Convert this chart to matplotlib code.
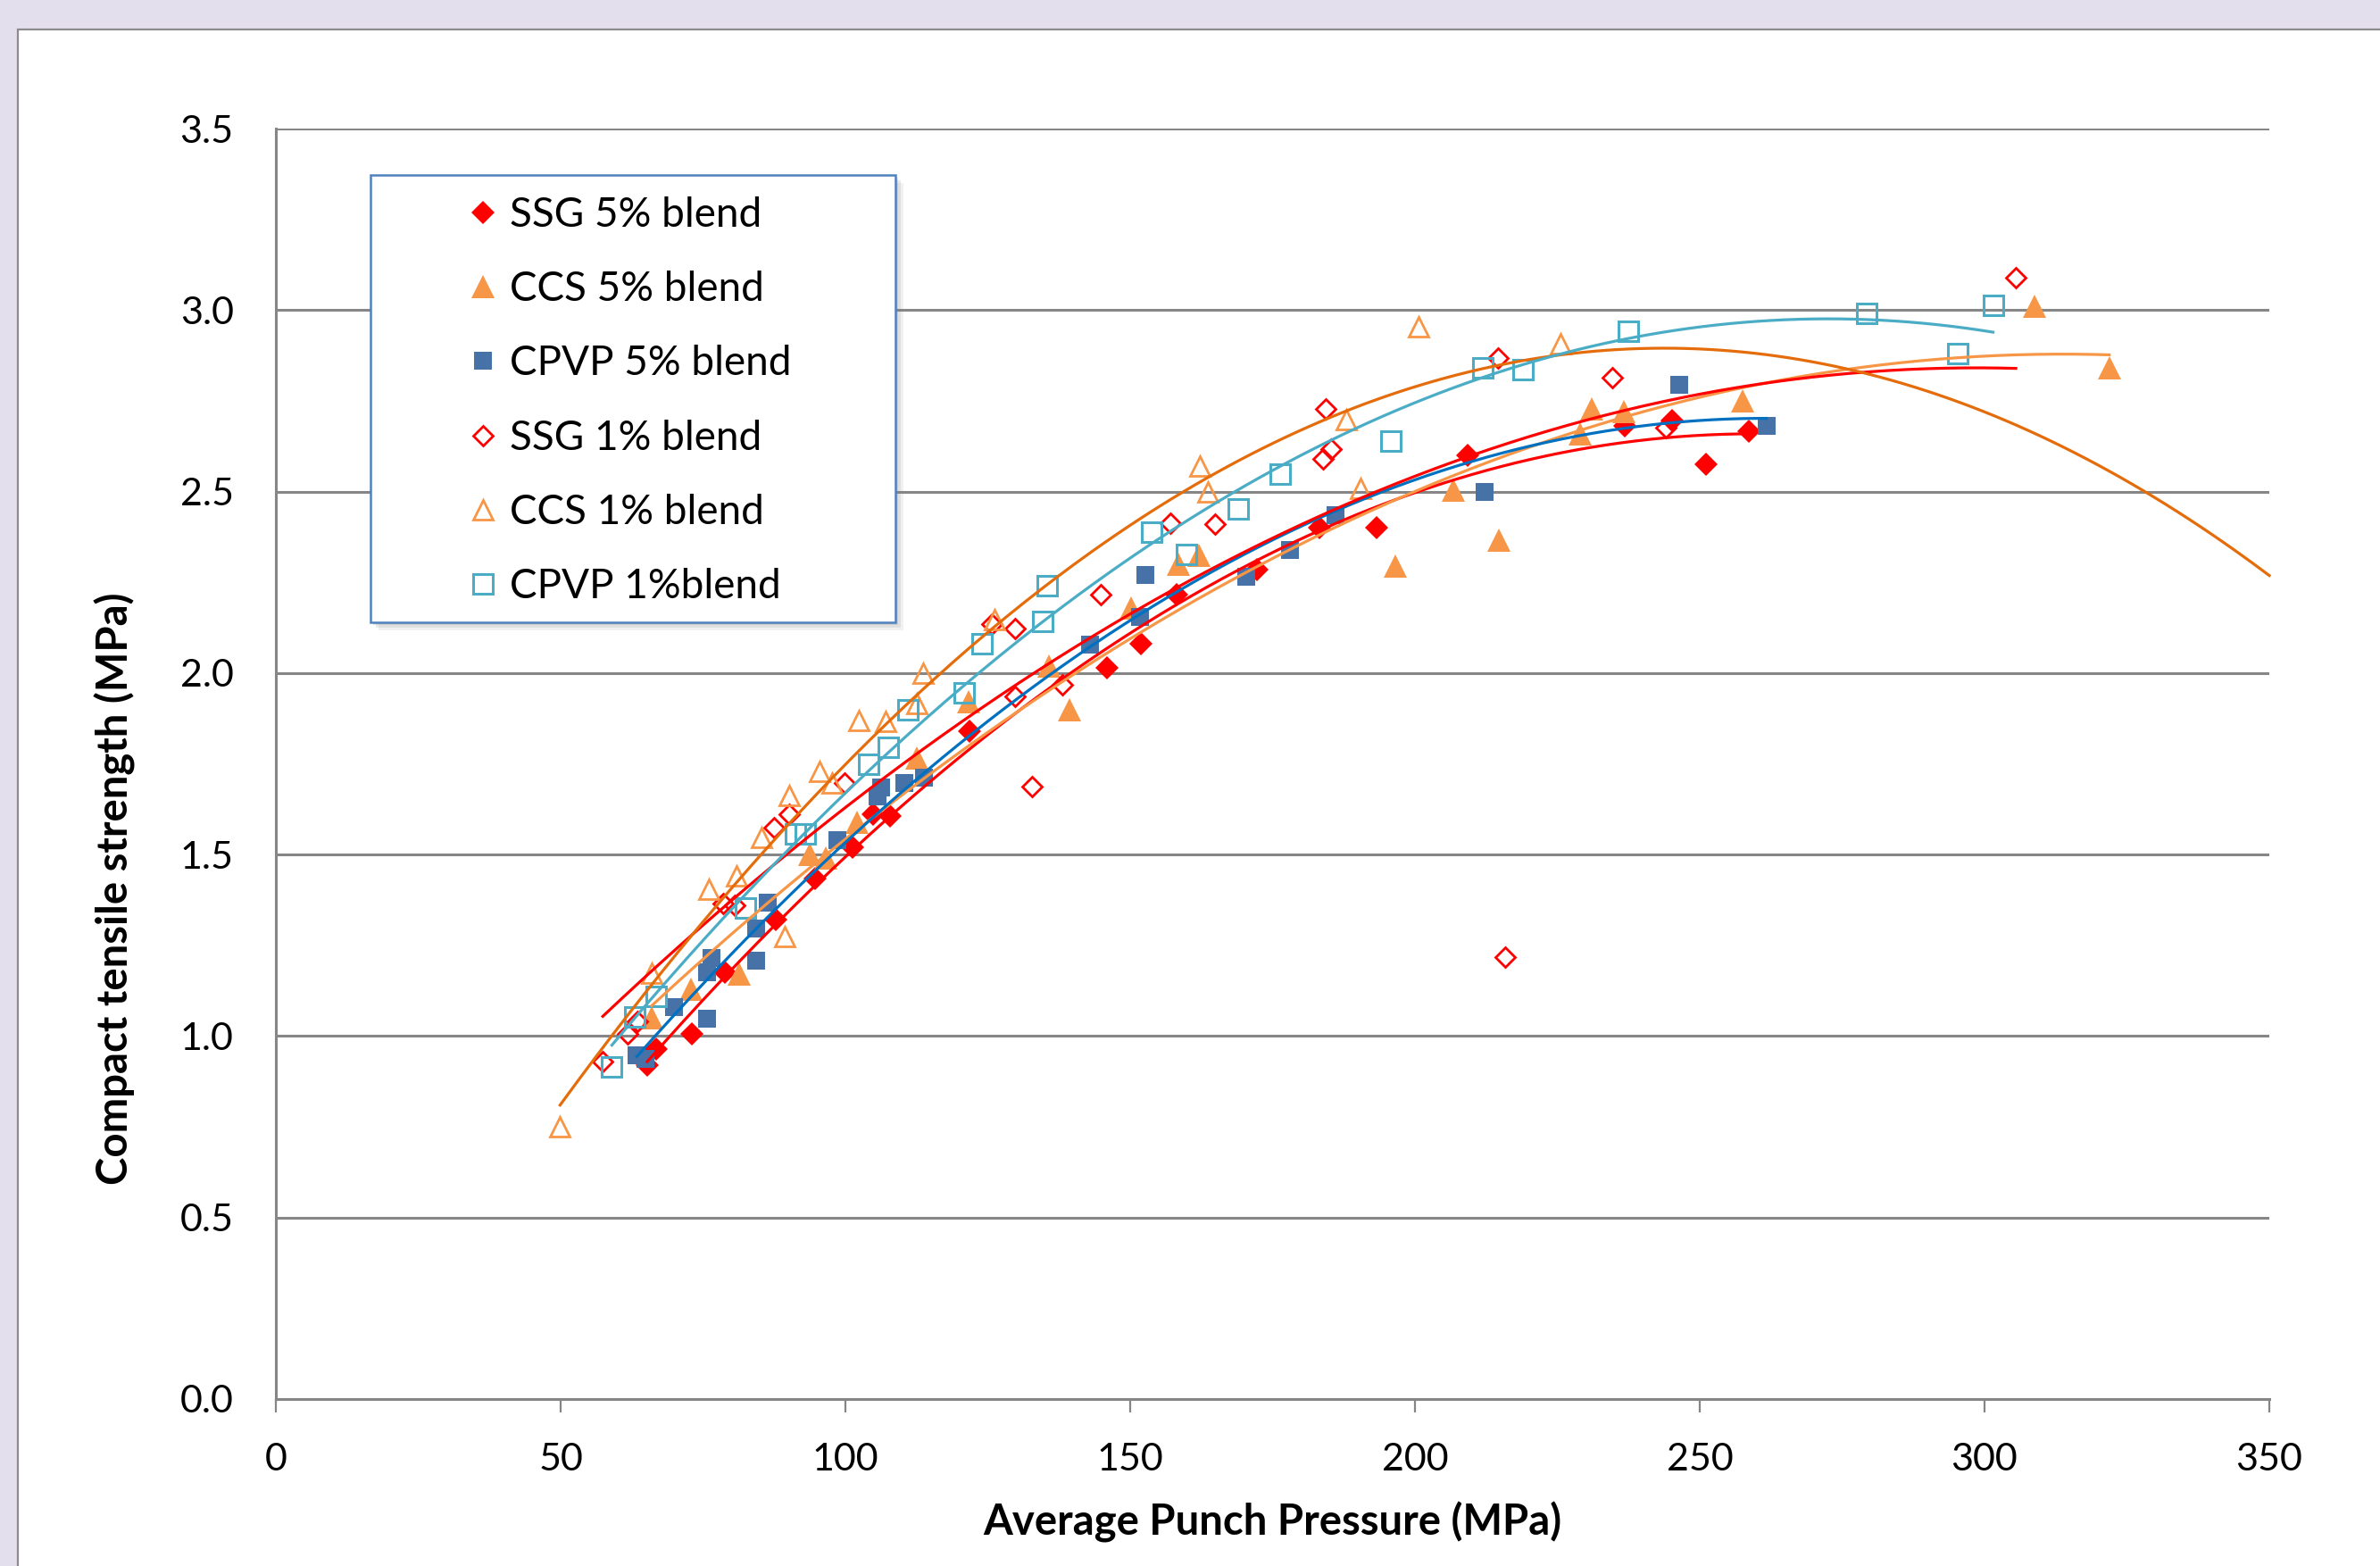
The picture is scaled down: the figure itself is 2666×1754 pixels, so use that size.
import numpy as np
import matplotlib
matplotlib.use("Agg")
import matplotlib.pyplot as plt
from matplotlib.patches import Rectangle
from matplotlib.lines import Line2D

# ---------------- data ----------------
series_names = ["SSG 5% blend", "CCS 5% blend", "CPVP 5% blend",
                "SSG 1% blend", "CCS 1% blend", "CPVP 1%blend"]

ssg5_x = [65.2, 66.8, 73.1, 78.9, 87.8, 94.7, 101.3, 104.8, 107.9, 121.8, 146.0,
          151.9, 158.1, 172.3, 183.2, 193.3, 209.2, 236.9, 245.1, 251.1, 258.6]
ssg5_y = [0.92, 0.965, 1.005, 1.175, 1.32, 1.435, 1.52, 1.61, 1.605, 1.84, 2.015,
          2.08, 2.215, 2.285, 2.40, 2.40, 2.60, 2.68, 2.695, 2.575, 2.665]

ccs5_x = [66.0, 72.9, 81.4, 93.8, 96.5, 102.0, 112.6, 121.7, 135.8, 139.3, 150.2,
          158.5, 162.1, 196.5, 206.7, 214.8, 229.0, 231.0, 236.6, 257.6, 308.8, 321.9]
ccs5_y = [1.05, 1.13, 1.17, 1.50, 1.49, 1.59, 1.765, 1.92, 2.02, 1.90, 2.18,
          2.30, 2.325, 2.296, 2.505, 2.365, 2.66, 2.727, 2.72, 2.75, 3.01, 2.842]

cpvp5_x = [63.4, 64.9, 69.9, 75.7, 75.7, 76.5, 84.4, 84.4, 86.4, 98.6, 105.7, 106.3,
           110.4, 113.8, 142.9, 151.8, 152.6, 170.4, 178.1, 186.0, 212.2, 246.4, 261.7]
cpvp5_y = [0.948, 0.936, 1.08, 1.047, 1.175, 1.215, 1.207, 1.295, 1.368, 1.539, 1.66,
           1.685, 1.697, 1.712, 2.079, 2.155, 2.271, 2.265, 2.34, 2.436, 2.50, 2.793, 2.682]

ssg1_x = [57.4, 61.8, 63.5, 78.5, 80.5, 87.4, 90.1, 99.8, 125.7, 129.8, 129.8, 132.8,
          138.1, 144.8, 157.0, 164.9, 183.8, 184.4, 185.2, 214.6, 215.9, 234.6, 244.0, 305.5]
ssg1_y = [0.929, 1.005, 1.04, 1.364, 1.36, 1.574, 1.612, 1.698, 2.135, 2.123, 1.935, 1.687,
          1.968, 2.217, 2.413, 2.41, 2.59, 2.727, 2.616, 2.868, 1.218, 2.815, 2.675, 3.089]

ccs1_x = [49.9, 66.0, 76.0, 80.8, 85.2, 89.3, 90.1, 95.5, 97.7, 102.4, 107.1, 112.6,
          113.6, 126.1, 162.3, 163.7, 188.0, 190.5, 200.7, 225.5]
ccs1_y = [0.749, 1.172, 1.405, 1.442, 1.546, 1.273, 1.662, 1.729, 1.697, 1.869, 1.866, 1.915,
          2.0, 2.148, 2.571, 2.50, 2.697, 2.51, 2.953, 2.907]

cpvp1_x = [59.0, 63.0, 66.8, 82.5, 91.3, 93.0, 104.0, 107.6, 111.0, 120.8, 124.0, 134.7,
           135.5, 153.8, 159.8, 169.0, 176.3, 195.7, 211.9, 218.9, 237.4, 279.3, 295.3, 301.5]
cpvp1_y = [0.916, 1.052, 1.11, 1.354, 1.556, 1.556, 1.749, 1.795, 1.899, 1.945, 2.081, 2.143,
           2.241, 2.389, 2.327, 2.451, 2.549, 2.64, 2.842, 2.837, 2.941, 2.99, 2.879, 3.014]

x_ticks = [0, 50, 100, 150, 200, 250, 300, 350]
y_ticks = [0.0, 0.5, 1.0, 1.5, 2.0, 2.5, 3.0, 3.5]
x_label = "Average Punch Pressure (MPa)"
y_label = "Compact tensile strength (MPa)"

# trendline forward forecast (x end) for the CCS 1% series, as in the source chart
ccs1_forecast_to = 350

# ---------------- styles ----------------
W, H = 2666, 1754
plt.rcParams['font.family'] = ['Lato', 'DejaVu Sans']

styles = [
    dict(marker='D', ms=13, mfc='#FF0000', mec='#FF0000', mew=0, trend='#FF0000'),
    dict(marker='^', ms=18.5, mfc='#F79646', mec='#F79646', mew=0, trend='#F79646'),
    dict(marker='s', ms=14, mfc='#4672A8', mec='#4672A8', mew=0, trend='#0070C0'),
    dict(marker='D', ms=11.5, mfc='none', mec='#FF0000', mew=2.0, trend='#FF0000'),
    dict(marker='^', ms=15.5, mfc='none', mec='#F79646', mew=2.0, trend='#E46C0A'),
    dict(marker='s', ms=16, mfc='none', mec='#4BACC6', mew=2.2, trend='#4BACC6'),
]
xs = [ssg5_x, ccs5_x, cpvp5_x, ssg1_x, ccs1_x, cpvp1_x]
ys = [ssg5_y, ccs5_y, cpvp5_y, ssg1_y, ccs1_y, cpvp1_y]
trend_end = [None, None, None, None, ccs1_forecast_to, None]

fig = plt.figure(figsize=(W / 100, H / 100), dpi=100)
fig.patch.set_facecolor('#E4DFEC')

# white chart panel
panel = Rectangle((20 / W, -0.05), 1.2, 1 - 33 / H + 0.05, transform=fig.transFigure,
                  facecolor='white', edgecolor='#8C8C8C', lw=1.6, zorder=-10)
fig.add_artist(panel)

ax = fig.add_axes([309 / W, 1 - 1567 / H, (2542 - 309) / W, (1567 - 144) / H])
ax.set_facecolor('white')
ax.set_xlim(0, 350)
ax.set_ylim(0, 3.5)
ax.set_xticks(x_ticks)
ax.set_yticks(y_ticks)
ax.set_yticklabels([f"{v:.1f}" for v in y_ticks])
ax.yaxis.grid(True, color='#868686', lw=2.2)
ax.set_axisbelow(True)
for s in ['top', 'right']:
    ax.spines[s].set_visible(False)
for s in ['bottom', 'left']:
    ax.spines[s].set_color('#868686')
    ax.spines[s].set_linewidth(2.2)
ax.tick_params(axis='x', direction='out', length=11, width=1.6, color='#868686',
               labelsize=31, pad=24, labelcolor='black')
ax.tick_params(axis='y', length=0, labelsize=31, pad=34, labelcolor='black')

handles = []
for x, y, st, te in zip(xs, ys, styles, trend_end):
    x = np.asarray(x)
    y = np.asarray(y)
    ax.plot(x, y, ls='none', marker=st['marker'], ms=st['ms'], mfc=st['mfc'],
            mec=st['mec'], mew=st['mew'], zorder=2, clip_on=False)
    coef = np.polyfit(x, y, 2)
    xe = x.max() if te is None else te
    xx = np.linspace(x.min(), xe, 300)
    ax.plot(xx, np.polyval(coef, xx), color=st['trend'], lw=2.3, zorder=3, clip_on=False)
    handles.append(Line2D([], [], ls='none', marker=st['marker'], ms=st['ms'],
                          mfc=st['mfc'], mec=st['mec'], mew=st['mew']))

# axis titles
ax.set_xlabel(x_label, fontsize=34, fontweight='bold')
ax.xaxis.set_label_coords((1425 - 309) / (2542 - 309), (1567 - 1705) / (1567 - 144))
ax.xaxis.label.set_va('center')
ax.set_ylabel(y_label, fontsize=34, fontweight='bold')
ax.yaxis.set_label_coords((129 - 309) / (2542 - 309), (1567 - 995) / (1567 - 144))
ax.yaxis.label.set_va('center')

# legend box with soft shadow
lx0, ly0, lx1, ly1 = 415, 196, 1003, 697
for off, a in [(9, 0.10), (6, 0.15), (3, 0.2)]:
    sh = Rectangle(((lx0 + off) / W, 1 - (ly1 + off) / H), (lx1 - lx0) / W, (ly1 - ly0) / H,
                   transform=fig.transFigure, facecolor='#7F7F7F', edgecolor='none',
                   alpha=a, zorder=3)
    fig.add_artist(sh)
box = Rectangle((lx0 / W, 1 - ly1 / H), (lx1 - lx0) / W, (ly1 - ly0) / H,
                transform=fig.transFigure, facecolor='white', edgecolor='#4F81BD',
                lw=1.8, zorder=4)
fig.add_artist(box)
leg = fig.legend(handles, series_names, loc='upper left',
                 bbox_to_anchor=(523 / W, 1 - 220 / H), bbox_transform=fig.transFigure,
                 frameon=False, fontsize=33, borderpad=0, borderaxespad=0,
                 handlelength=0.8, handletextpad=0.25, labelspacing=0.9)
leg.set_zorder(6)

fig.savefig("out.png", dpi=100, facecolor=fig.get_facecolor())
